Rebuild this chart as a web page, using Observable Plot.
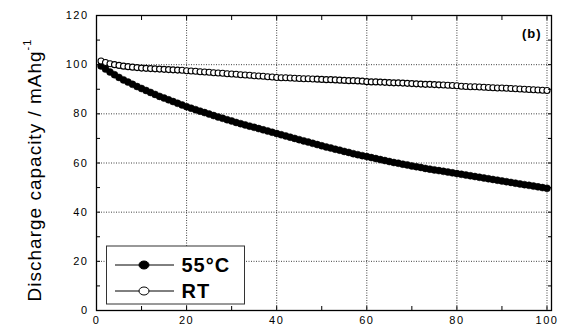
<!DOCTYPE html>
<html>
<head>
<meta charset="utf-8">
<script src="https://cdn.jsdelivr.net/npm/d3@7"></script>
<script src="https://cdn.jsdelivr.net/npm/@observablehq/plot@0.6"></script>
<style>
  html, body { margin: 0; padding: 0; background: #fff; }
  #chart { width: 562px; height: 328px; }
</style>
</head>
<body>
<div id="chart"></div>
<script>
const seriesNames = ["55°C", "RT"];
// Discharge capacity (mAh/g) for cycles 1..100
const cap55 = [
  99.5, 98.2, 97.0, 95.9, 94.8, 93.8, 92.9, 92.0, 91.1, 90.3,
  89.5, 88.7, 87.9, 87.1, 86.4, 85.7, 85.0, 84.3, 83.6, 82.9,
  82.3, 81.7, 81.1, 80.5, 79.9, 79.3, 78.7, 78.2, 77.6, 77.1,
  76.5, 76.0, 75.5, 75.0, 74.5, 74.0, 73.5, 73.0, 72.5, 72.0,
  71.5, 71.0, 70.5, 70.0, 69.5, 69.0, 68.5, 68.0, 67.5, 67.0,
  66.5, 66.1, 65.6, 65.2, 64.7, 64.3, 63.8, 63.4, 63.0, 62.6,
  62.2, 61.8, 61.4, 61.0, 60.6, 60.2, 59.9, 59.5, 59.2, 58.8,
  58.5, 58.2, 57.8, 57.5, 57.2, 56.9, 56.6, 56.3, 56.0, 55.7,
  55.4, 55.1, 54.8, 54.5, 54.2, 53.9, 53.6, 53.3, 53.0, 52.7,
  52.4, 52.1, 51.8, 51.5, 51.2, 50.9, 50.6, 50.3, 50.0, 49.7
];
const capRT = [
  101.5, 100.9, 100.4, 100.0, 99.7, 99.4, 99.2, 99.0, 98.8, 98.6,
  98.5, 98.4, 98.3, 98.2, 98.1, 98.0, 97.9, 97.8, 97.7, 97.5,
  97.4, 97.3, 97.1, 97.0, 96.9, 96.7, 96.6, 96.5, 96.3, 96.2,
  96.1, 95.9, 95.8, 95.7, 95.5, 95.4, 95.3, 95.1, 95.0, 94.8,
  94.7, 94.7, 94.6, 94.5, 94.4, 94.3, 94.3, 94.2, 94.1, 94.0,
  93.9, 93.9, 93.8, 93.7, 93.6, 93.5, 93.5, 93.4, 93.3, 93.1,
  93.0, 93.0, 92.9, 92.8, 92.7, 92.6, 92.6, 92.5, 92.4, 92.3,
  92.2, 92.1, 92.0, 92.0, 91.9, 91.8, 91.7, 91.6, 91.5, 91.4,
  91.2, 91.1, 91.0, 91.0, 90.9, 90.8, 90.7, 90.6, 90.5, 90.5,
  90.4, 90.3, 90.2, 90.1, 90.0, 89.9, 89.8, 89.7, 89.6, 89.5
];
const xTickLabels = [0, 20, 40, 60, 80, 100];
const yTickLabels = [0, 20, 40, 60, 80, 100, 120];
const xMinorTicks = [10, 20, 30, 40, 50, 60, 70, 80, 90, 100];
const yMinorTicks = [10, 20, 30, 40, 50, 60, 70, 80, 90, 100, 110];
const gridXValues = [20, 40, 60, 80, 100];
const gridYValues = [20, 40, 60, 80, 100];
const yLabel = "Discharge capacity / mAhg";
const panelLabel = "(b)";

const d55 = cap55.map((v, i) => ({cycle: i + 1, cap: v}));
const dRT = capRT.map((v, i) => ({cycle: i + 1, cap: v}));

const font = "'Liberation Sans', Arial, Helvetica, sans-serif";
const blank = () => "";

const plot = Plot.plot({
  width: 562,
  height: 328,
  marginLeft: 96,
  marginRight: 11,
  marginTop: 15,
  marginBottom: 18,
  style: {fontFamily: font, background: "#fff", color: "#000", overflow: "visible"},
  x: {domain: [0, 101]},
  y: {domain: [0, 120]},
  marks: [
    Plot.gridX(gridXValues, {stroke: "#000", strokeOpacity: 0.75, strokeDasharray: "1,1.5", strokeWidth: 1}),
    Plot.gridY(gridYValues, {stroke: "#000", strokeOpacity: 0.75, strokeDasharray: "1,1.5", strokeWidth: 1}),
    Plot.dot(d55, {x: "cycle", y: "cap", r: 3.5, fill: "#000", stroke: "#000", strokeWidth: 0.5}),
    Plot.dot(dRT, {x: "cycle", y: "cap", r: 3, fill: "#fff", stroke: "#000", strokeWidth: 1.1}),
    Plot.axisY(yTickLabels, {anchor: "left", tickSize: 0, tickPadding: 8, label: null, ariaLabel: "ylabels"}),
    Plot.axisX(xTickLabels, {anchor: "bottom", tickSize: 0, tickPadding: 6, label: null, ariaLabel: "xlabels"}),
    Plot.axisY(yMinorTicks, {anchor: "left", tickSize: -4, tickFormat: blank, label: null, strokeWidth: 1}),
    Plot.axisY(yMinorTicks, {anchor: "right", tickSize: -4, tickFormat: blank, label: null, strokeWidth: 1}),
    Plot.axisX(xMinorTicks, {anchor: "bottom", tickSize: -4, tickFormat: blank, label: null, strokeWidth: 1}),
    Plot.axisX(xMinorTicks, {anchor: "top", tickSize: -4, tickFormat: blank, label: null, strokeWidth: 1}),
    Plot.frame({stroke: "#000", strokeWidth: 1.3}),
    Plot.text([panelLabel], {frameAnchor: "top-right", dx: -10, dy: 18, lineAnchor: "middle", fontSize: 13, fontWeight: "bold", text: d => d})
  ]
});

const svg = d3.select(plot);
// tick label font
svg.selectAll("text").each(function() {
  const s = d3.select(this);
  if (s.text() !== panelLabel) s.attr("font-size", 11).attr("letter-spacing", "1.5px");
  else s.attr("letter-spacing", "1px");
});

// y axis title with superscript
const t = svg.append("text")
  .attr("transform", "translate(41,170) rotate(-90)")
  .attr("text-anchor", "middle")
  .attr("font-family", font)
  .attr("font-size", 19)
  .attr("letter-spacing", "1px")
  .attr("fill", "#000");
t.append("tspan").text(yLabel);
t.append("tspan").attr("font-size", 11).attr("dy", -10).text("-1");

// legend
const lg = svg.append("g").attr("font-family", font);
lg.append("rect").attr("x", 106.5).attr("y", 246).attr("width", 138).attr("height", 58)
  .attr("fill", "#fff").attr("stroke", "#333").attr("stroke-width", 1);
const rows = [
  {name: seriesNames[0], y: 265, fill: "#000"},
  {name: seriesNames[1], y: 291, fill: "#fff"}
];
rows.forEach(r => {
  lg.append("line").attr("x1", 115).attr("x2", 174).attr("y1", r.y).attr("y2", r.y)
    .attr("stroke", "#000").attr("stroke-width", 1);
  lg.append("ellipse").attr("cx", 144).attr("cy", r.y).attr("rx", 5).attr("ry", 4)
    .attr("fill", r.fill).attr("stroke", "#000").attr("stroke-width", 1);
  lg.append("text").attr("x", 181.5).attr("y", r.y + 7.3)
    .attr("text-anchor", "start")
    .attr("font-size", 20).attr("font-weight", "bold").attr("letter-spacing", "1px")
    .attr("fill", "#000").text(r.name);
});

document.getElementById("chart").appendChild(plot);
</script>
</body>
</html>
